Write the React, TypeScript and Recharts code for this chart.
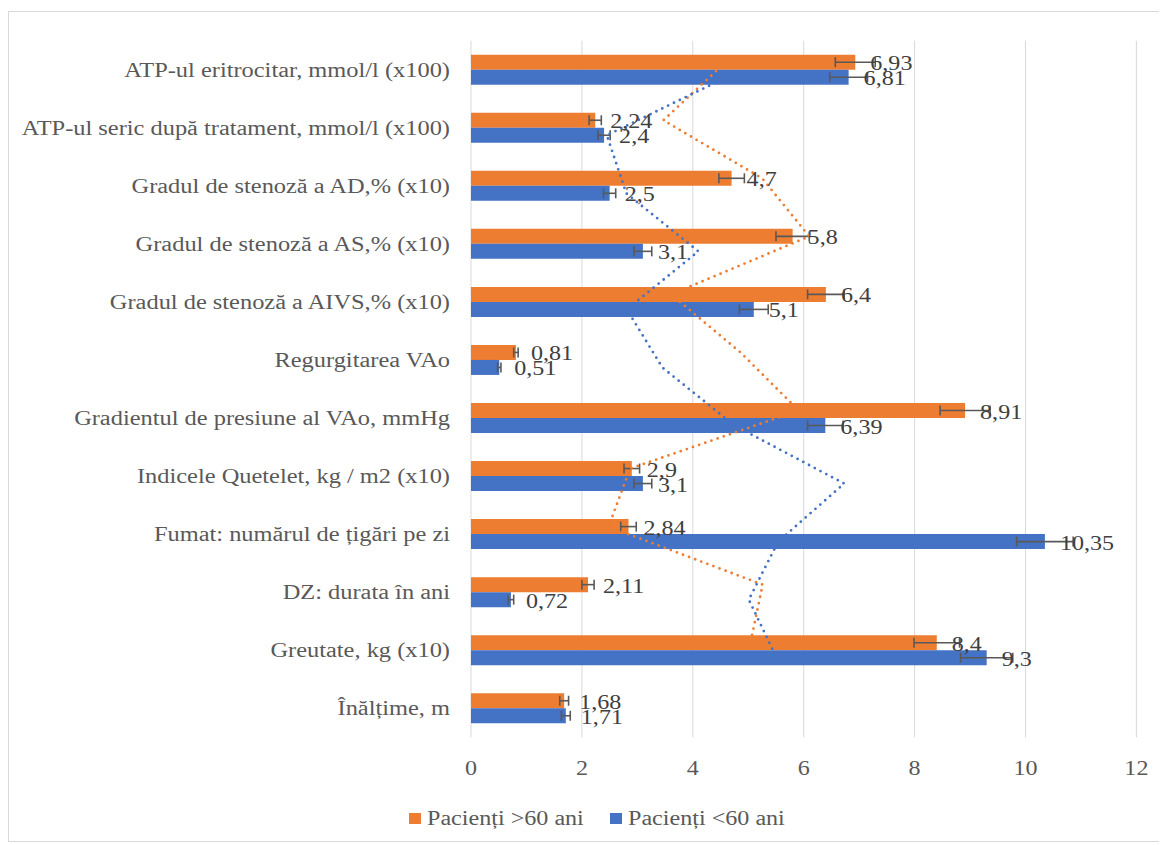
import {
  Bar,
  CartesianGrid,
  ComposedChart,
  ErrorBar,
  LabelList,
  Line,
  XAxis,
  YAxis,
} from "recharts";

const categories = [
  "ATP-ul eritrocitar, mmol/l (x100)",
  "ATP-ul seric după tratament, mmol/l (x100)",
  "Gradul de stenoză a AD,% (x10)",
  "Gradul de stenoză a AS,% (x10)",
  "Gradul de stenoză a AIVS,% (x10)",
  "Regurgitarea VAo",
  "Gradientul de presiune al VAo, mmHg",
  "Indicele Quetelet, kg / m2 (x10)",
  "Fumat: numărul de țigări pe zi",
  "DZ: durata în ani",
  "Greutate, kg (x10)",
  "Înălțime, m",
];
const over60 = [6.93, 2.24, 4.7, 5.8, 6.4, 0.81, 8.91, 2.9, 2.84, 2.11, 8.4, 1.68];
const under60 = [6.81, 2.4, 2.5, 3.1, 5.1, 0.51, 6.39, 3.1, 10.35, 0.72, 9.3, 1.71];
const over60Err = [0.36, 0.11, 0.23, 0.3, 0.33, 0.04, 0.45, 0.14, 0.14, 0.11, 0.41, 0.08];
const under60Err = [0.34, 0.11, 0.11, 0.16, 0.26, 0.03, 0.32, 0.16, 0.51, 0.05, 0.47, 0.08];
// dotted trend lines (moving average)
const over60Trend = [4.59, 3.47, 5.25, 6.1, 3.61, 4.86, 5.91, 2.87, 2.48, 5.26, 5.04, null];
const under60Trend = [4.61, 2.45, 2.8, 4.1, 2.81, 3.45, 4.75, 6.73, 5.54, 5.01, 5.51, null];
const xTicks = [0, 2, 4, 6, 8, 10, 12];
const seriesNames = ["Pacienți >60 ani", "Pacienți <60 ani"];

const ORANGE = "#ED7D31";
const BLUE = "#4472C4";
const FONT = '"Liberation Serif", "Times New Roman", serif';
const FS = 21.33;
// the reference text is a little wider than the plain font
const SX = 1.13;

const data = categories.map((name, i) => ({
  name,
  over60: over60[i],
  under60: under60[i],
  over60Err: over60Err[i],
  under60Err: under60Err[i],
  over60Trend: over60Trend[i],
  under60Trend: under60Trend[i],
}));

const fmt = (v: number) => String(v).replace(".", ",");

function WideText({ x, y, anchor, fill, sx = SX, children }: any) {
  return (
    <text
      transform={`translate(${x},${y}) scale(${sx},1)`}
      x={0}
      y={0}
      textAnchor={anchor}
      dominantBaseline="central"
      fontFamily={FONT}
      fontSize={FS}
      fill={fill}
    >
      {children}
    </text>
  );
}

function CategoryTick({ x, y, payload }: any) {
  return (
    <WideText x={x} y={y} anchor="end" fill="#595959" sx={1.145}>
      {payload.value}
    </WideText>
  );
}

function ValueTick({ x, y, payload }: any) {
  return (
    <WideText x={x} y={y} anchor="middle" fill="#595959">
      {payload.value}
    </WideText>
  );
}

function BarValue({ x, y, width, height, value }: any) {
  return (
    <WideText x={x + width + 15} y={y + height / 2 + 1} anchor="start" fill="#404040">
      {fmt(value)}
    </WideText>
  );
}

export default function App() {
  return (
    <div style={{ paddingTop: 3 }}>
      <style>{`
        .trend-over { transform: translateY(-7.5px); }
        .trend-under { transform: translateY(7.5px); }
      `}</style>
      <div
        style={{
          position: "relative",
          width: 1150,
          height: 829,
          border: "1px solid #d9d9d9",
          background: "#fff",
        }}
      >
        <ComposedChart
          width={1150}
          height={829}
          data={data}
          layout="vertical"
          barGap={0}
          margin={{ top: 28.7, right: 22.6, left: 0, bottom: 63.7 }}
        >
          <CartesianGrid horizontal={false} stroke="#d9d9d9" />
          <XAxis
            type="number"
            domain={[0, 12]}
            ticks={xTicks}
            axisLine={false}
            tickLine={false}
            tickSize={0}
            tickMargin={31}
            height={40}
            tick={<ValueTick />}
          />
          <YAxis
            type="category"
            dataKey="name"
            width={462}
            axisLine={false}
            tickLine={false}
            tickSize={0}
            tickMargin={21}
            tick={<CategoryTick />}
          />
          <Bar dataKey="over60" fill={ORANGE} barSize={15} isAnimationActive={false}>
            <ErrorBar dataKey="over60Err" direction="x" width={5} stroke="#595959" strokeWidth={1.6} />
            <LabelList dataKey="over60" content={<BarValue />} />
          </Bar>
          <Bar dataKey="under60" fill={BLUE} barSize={15} isAnimationActive={false}>
            <ErrorBar dataKey="under60Err" direction="x" width={5} stroke="#595959" strokeWidth={1.6} />
            <LabelList dataKey="under60" content={<BarValue />} />
          </Bar>
          <Line
            className="trend-over"
            dataKey="over60Trend"
            type="linear"
            stroke={ORANGE}
            strokeWidth={2.8}
            strokeDasharray="0 6.5"
            strokeLinecap="round"
            dot={false}
            activeDot={false}
            isAnimationActive={false}
          />
          <Line
            className="trend-under"
            dataKey="under60Trend"
            type="linear"
            stroke={BLUE}
            strokeWidth={2.8}
            strokeDasharray="0 6.5"
            strokeLinecap="round"
            dot={false}
            activeDot={false}
            isAnimationActive={false}
          />
        </ComposedChart>
        {seriesNames.map((n, i) => (
          <div
            key={n}
            style={{
              position: "absolute",
              left: i === 0 ? 400 : 601,
              top: 794,
              height: 24,
              display: "flex",
              alignItems: "center",
              fontFamily: FONT,
              fontSize: FS,
              color: "#595959",
              whiteSpace: "nowrap",
            }}
          >
            <span
              style={{
                width: 12,
                height: 11,
                background: i === 0 ? ORANGE : BLUE,
                marginRight: 6,
                display: "inline-block",
              }}
            />
            <span style={{ display: "inline-block", transform: `scaleX(${SX})`, transformOrigin: "left center" }}>
              {n}
            </span>
          </div>
        ))}
      </div>
    </div>
  );
}
